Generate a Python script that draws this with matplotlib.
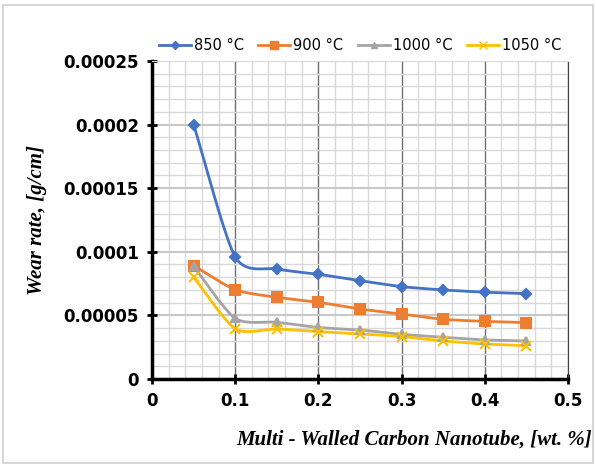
import numpy as np
import matplotlib.pyplot as plt
from matplotlib.patches import Rectangle
from matplotlib.ticker import MultipleLocator, FuncFormatter

# Data
mwcnt = [0.05, 0.10, 0.15, 0.20, 0.25, 0.30, 0.35, 0.40, 0.45]
wear_850 = [0.000200, 0.0000960, 0.0000865, 0.0000823, 0.0000773, 0.0000726, 0.0000700, 0.0000682, 0.0000671]
wear_900 = [0.0000891, 0.0000702, 0.0000642, 0.0000603, 0.0000550, 0.0000511, 0.0000469, 0.0000453, 0.0000443]
wear_1000 = [0.0000885, 0.0000477, 0.0000446, 0.0000405, 0.0000385, 0.0000351, 0.0000328, 0.0000307, 0.0000299]
wear_1050 = [0.0000800, 0.0000395, 0.0000393, 0.0000372, 0.0000354, 0.0000333, 0.0000299, 0.0000275, 0.0000262]
labels = ["850 °C", "900 °C", "1000 °C", "1050 °C"]
colors = ["#4472C4", "#ED7D31", "#A5A5A5", "#FFC000"]
markers = ["D", "s", "^", "x"]
msizes = [5, 7, 6, 7]


# Smoothed line like the spreadsheet's "smooth line" option
# (cubic Hermite with damped Catmull-Rom tangents)
def smooth(xs, ys, n=20, k=0.75):
    xs = np.asarray(xs, float)
    ys = np.asarray(ys, float)
    px = np.concatenate([[2 * xs[0] - xs[1]], xs, [2 * xs[-1] - xs[-2]]])
    py = np.concatenate([[2 * ys[0] - ys[1]], ys, [2 * ys[-1] - ys[-2]]])
    t = np.linspace(0, 1, n)
    h00 = 2 * t ** 3 - 3 * t ** 2 + 1
    h10 = t ** 3 - 2 * t ** 2 + t
    h01 = -2 * t ** 3 + 3 * t ** 2
    h11 = t ** 3 - t ** 2
    out_x, out_y = [], []
    for i in range(1, len(px) - 2):
        for p, out in ((px, out_x), (py, out_y)):
            m1 = k * 0.5 * (p[i + 1] - p[i - 1])
            m2 = k * 0.5 * (p[i + 2] - p[i])
            out.extend(h00 * p[i] + h10 * m1 + h01 * p[i + 1] + h11 * m2)
    return out_x, out_y


def fmt(v, pos):
    if abs(v) < 1e-12:
        return "0"
    return ("%.5f" % v).rstrip("0").rstrip(".")


fig = plt.figure(figsize=(5.96, 4.65), dpi=100)
fig.patches.append(Rectangle((0.005, 0.005), 0.99, 0.985, transform=fig.transFigure,
                             fill=False, edgecolor="#D0D0D0", linewidth=1.2))
ax = fig.add_axes([0.255, 0.185, 0.698, 0.684])

series = [wear_850, wear_900, wear_1000, wear_1050]
for ys, lab, col, mk, ms in zip(series, labels, colors, markers, msizes):
    sx, sy = smooth(mwcnt, ys)
    ax.plot(sx, sy, color=col, linewidth=2, zorder=3)
    ax.plot(mwcnt, ys, linestyle="none", marker=mk, color=col, markersize=ms,
            markeredgewidth=1.5, zorder=4)
    ax.plot([], [], color=col, linewidth=2, marker=mk, markersize=ms - 1, label=lab)

ax.set_xlim(0, 0.5)
ax.set_ylim(0, 0.00025)
ax.xaxis.set_major_locator(MultipleLocator(0.1))
ax.xaxis.set_minor_locator(MultipleLocator(0.02))
ax.yaxis.set_major_locator(MultipleLocator(0.00005))
ax.yaxis.set_minor_locator(MultipleLocator(0.00001))
ax.xaxis.set_major_formatter(FuncFormatter(fmt))
ax.yaxis.set_major_formatter(FuncFormatter(fmt))

ax.grid(which="minor", color="#D9D9D9", linewidth=1)
ax.grid(which="major", axis="y", color="#C8C8C8", linewidth=1.5)
ax.grid(which="major", axis="x", color="#6E6E6E", linewidth=1)
ax.set_axisbelow(True)

for s in ["left", "bottom"]:
    ax.spines[s].set_linewidth(2.5)
    ax.spines[s].set_color("black")
ax.spines["right"].set_color("#404040")
ax.spines["top"].set_color("#D9D9D9")
ax.tick_params(which="major", direction="inout", length=7, width=2, pad=6)
ax.tick_params(which="minor", length=0)

for t in ax.get_xticklabels() + ax.get_yticklabels():
    t.set_fontweight("bold")
    t.set_fontsize(12)

ax.set_xlabel("Multi - Walled Carbon Nanotube, [wt. %]", family="Liberation Serif",
              fontsize=15, fontweight="bold", style="italic")
ax.xaxis.set_label_coords(0.63, -0.16)
ax.set_ylabel("Wear rate, [g/cm]", family="Liberation Serif", fontsize=15,
              fontweight="bold", style="italic", labelpad=12)

ax.legend(loc="lower center", bbox_to_anchor=(0.5, 1.0), ncol=4, frameon=False,
          fontsize=10.5, handlelength=2.2, handletextpad=0.2, columnspacing=1.0,
          borderaxespad=0.15)

fig.savefig("out.png", dpi=100)
